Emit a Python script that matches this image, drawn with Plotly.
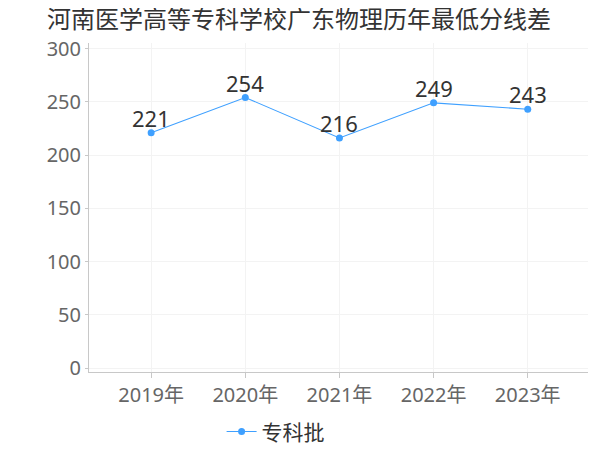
import plotly.graph_objects as go

categories = ["2019年", "2020年", "2021年", "2022年", "2023年"]
values = [221, 254, 216, 249, 243]
series_name = "专科批"
title = "河南医学高等专科学校广东物理历年最低分线差"
y_ticks = [0, 50, 100, 150, 200, 250, 300]

font_family = "Noto Sans, Noto Sans CJK SC, sans-serif"

fig = go.Figure()
fig.add_trace(go.Scatter(
    x=categories, y=values, name=series_name,
    mode="lines+markers",
    line=dict(color="#3fa0ff", width=1.1),
    marker=dict(color="#3fa0ff", size=7),
))

for c, v in zip(categories, values):
    fig.add_annotation(
        x=c, y=v, text=str(v), showarrow=False,
        yanchor="bottom", xanchor="center", yshift=-2,
        font=dict(size=22, color="#333333", family=font_family),
    )

fig.update_layout(
    width=600, height=450,
    margin=dict(l=81, r=20, t=35, b=86, autoexpand=False),
    paper_bgcolor="white", plot_bgcolor="white",
    title=dict(text=title, x=0.065, xanchor="left", y=0.975, yanchor="middle",
               font=dict(size=24, color="#333333", family=font_family)),
    font=dict(family=font_family),
    showlegend=True,
    legend=dict(orientation="h", xref="container", yref="container",
                x=0.446, xanchor="center", y=0.058, yanchor="middle",
                font=dict(size=21, color="#333333", family=font_family)),
    xaxis=dict(
        range=[-0.66, 4.64], showgrid=True, gridcolor="#f3f3f3",
        showline=True, linecolor="#c8c8c8", linewidth=1,
        ticks="outside", ticklen=5, tickcolor="#c8c8c8",
        tickfont=dict(size=20, color="#666666", family=font_family),
        zeroline=False, automargin=False,
    ),
    yaxis=dict(
        range=[-3.76, 305.2], tickvals=y_ticks, showgrid=True, gridcolor="#f3f3f3",
        showline=True, linecolor="#c8c8c8", linewidth=1,
        ticks="outside", ticklen=3, tickcolor="#c8c8c8",
        tickfont=dict(size=20, color="#666666", family=font_family),
        zeroline=False, automargin=False,
    ),
)

fig.write_html("out.html")
